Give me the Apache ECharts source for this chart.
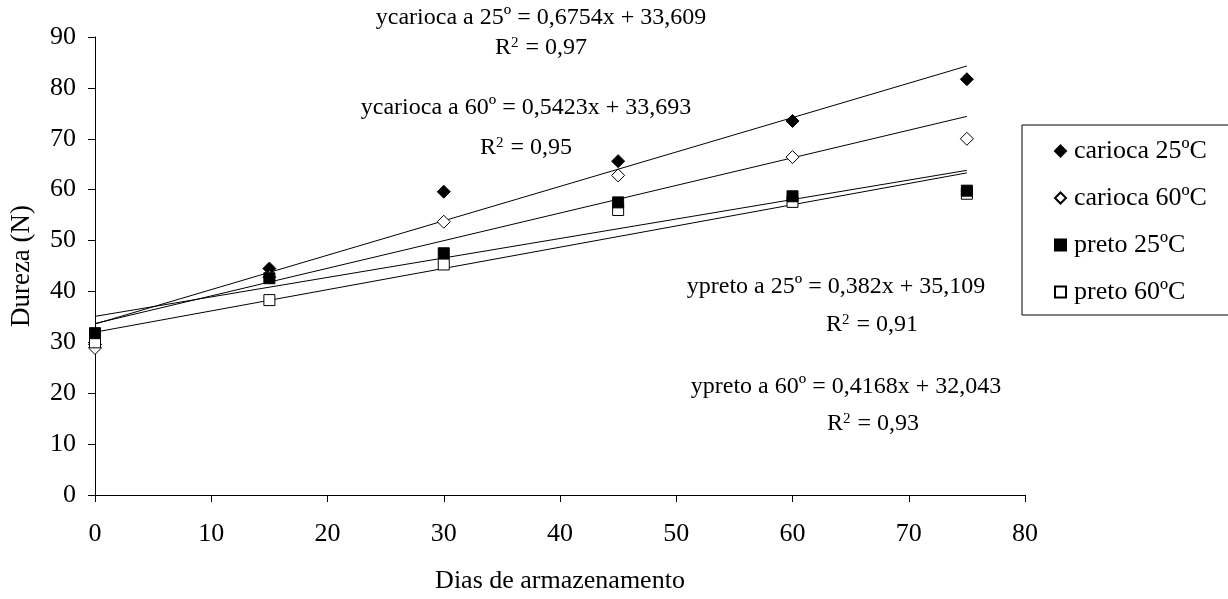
<!DOCTYPE html>
<html><head><meta charset="utf-8">
<script src="https://cdn.jsdelivr.net/npm/echarts@6/dist/echarts.min.js"></script>
<style>html,body{margin:0;padding:0;background:#fff}#c{width:1228px;height:599px}</style>
</head><body><div id="c"></div>
<script>
const days = [0, 15, 30, 45, 60, 75];
const carioca25 = [29.6, 44.5, 59.6, 65.6, 73.5, 81.7];
const carioca60 = [28.9, 42.8, 53.7, 62.8, 66.4, 70.0];
const preto25 = [31.8, 42.6, 47.5, 57.5, 58.7, 59.8];
const preto60 = [30.0, 38.3, 45.3, 56.0, 57.6, 59.2];
const trendX = [0, 75];
const trendCarioca25 = [33.6, 84.3];
const trendCarioca60 = [33.7, 74.4];
const trendPreto25 = [35.1, 63.8];
const trendPreto60 = [32.0, 63.3];
const seriesNames = ['carioca 25ºC', 'carioca 60ºC', 'preto 25ºC', 'preto 60ºC'];
const xTicks = [0, 10, 20, 30, 40, 50, 60, 70, 80];
const yTicks = [0, 10, 20, 30, 40, 50, 60, 70, 80, 90];
const annotations = [
  ['ycarioca a 25º = 0,6754x + 33,609', 'R{s|2} = 0,97'],
  ['ycarioca a 60º = 0,5423x + 33,693', 'R{s|2} = 0,95'],
  ['ypreto a 25º = 0,382x + 35,109', 'R{s|2} = 0,91'],
  ['ypreto a 60º = 0,4168x + 32,043', 'R{s|2} = 0,93']
];
const xTitle = 'Dias de armazenamento';
const yTitle = 'Dureza (N)';
const FONT = '"Liberation Serif", "Times New Roman", "DejaVu Serif", serif';

const pair = (xs, ys) => xs.map((x, i) => [x, ys[i]]);
const chart = echarts.init(document.getElementById('c'), null, {renderer: 'canvas'});

const scatterStyle = (name, symbol, filled, size, data) => ({
  name, type: 'scatter', symbol, symbolSize: size, data: pair(days, data),
  itemStyle: {color: filled ? '#000' : '#fff', borderColor: '#000', borderWidth: 1, opacity: 1},
  z: 5
});
const trend = (ys) => ({
  type: 'line', data: pair(trendX, ys), symbol: 'none', silent: true,
  lineStyle: {color: '#000', width: 1}, z: 3, animation: false
});

const annPos = [[541, 18, 541, 48], [526, 108, 526, 148], [836, 287, 872, 325], [846, 387, 873, 424]];
const graphics = [];
annotations.forEach((a, i) => {
  const p = annPos[i];
  graphics.push({type: 'text', x: p[0], y: p[1], z: 10, style: {
    text: a[0], fill: '#000', fontSize: 24, fontFamily: FONT,
    align: 'center', verticalAlign: 'middle'}});
  graphics.push({type: 'text', x: p[2], y: p[3], z: 10, style: {
    text: a[1], fill: '#000', fontSize: 24, fontFamily: FONT,
    align: 'center', verticalAlign: 'middle',
    rich: {s: {fontSize: 15, fontFamily: FONT, verticalAlign: 'top', padding: [0, 1, 8, 0]}}}});
});

chart.setOption({
  animation: false,
  backgroundColor: '#fff',
  grid: {left: 95, right: 203, top: 37, bottom: 99, containLabel: false},
  xAxis: {
    type: 'value', min: xTicks[0], max: xTicks[xTicks.length - 1], interval: 10,
    name: xTitle, nameLocation: 'middle', nameGap: 73,
    nameTextStyle: {color: '#000', fontSize: 26, fontFamily: FONT},
    axisLine: {lineStyle: {color: '#000', width: 1}},
    axisTick: {show: true, length: 7, lineStyle: {color: '#000'}},
    splitLine: {show: false},
    axisLabel: {color: '#000', fontSize: 26, fontFamily: FONT, margin: 26}
  },
  yAxis: {
    type: 'value', min: yTicks[0], max: yTicks[yTicks.length - 1], interval: 10,
    name: yTitle, nameLocation: 'middle', nameGap: 60, nameRotate: 90,
    nameTextStyle: {color: '#000', fontSize: 27, fontFamily: FONT},
    axisLine: {show: true, lineStyle: {color: '#000', width: 1}},
    axisTick: {show: true, length: 7, lineStyle: {color: '#000'}},
    splitLine: {show: false},
    axisLabel: {color: '#000', fontSize: 26, fontFamily: FONT, margin: 19}
  },
  legend: {
    data: seriesNames.map(n => ({name: n})),
    orient: 'vertical', left: 1022, top: 125,
    padding: [13, 22, 10, 32], itemGap: 21, itemWidth: 11, itemHeight: 11,
    borderColor: '#000', borderWidth: 1, backgroundColor: '#fff',
    textStyle: {color: '#000', fontSize: 26, fontFamily: FONT, padding: [0, 0, 0, 3]}
  },
  graphic: graphics,
  series: [
    trend(trendCarioca25), trend(trendCarioca60), trend(trendPreto25), trend(trendPreto60),
    scatterStyle(seriesNames[0], 'diamond', true, 13, carioca25),
    scatterStyle(seriesNames[1], 'diamond', false, 13, carioca60),
    scatterStyle(seriesNames[3], 'rect', false, 11, preto60),
    scatterStyle(seriesNames[2], 'rect', true, 11, preto25)
  ]
});
</script></body></html>
